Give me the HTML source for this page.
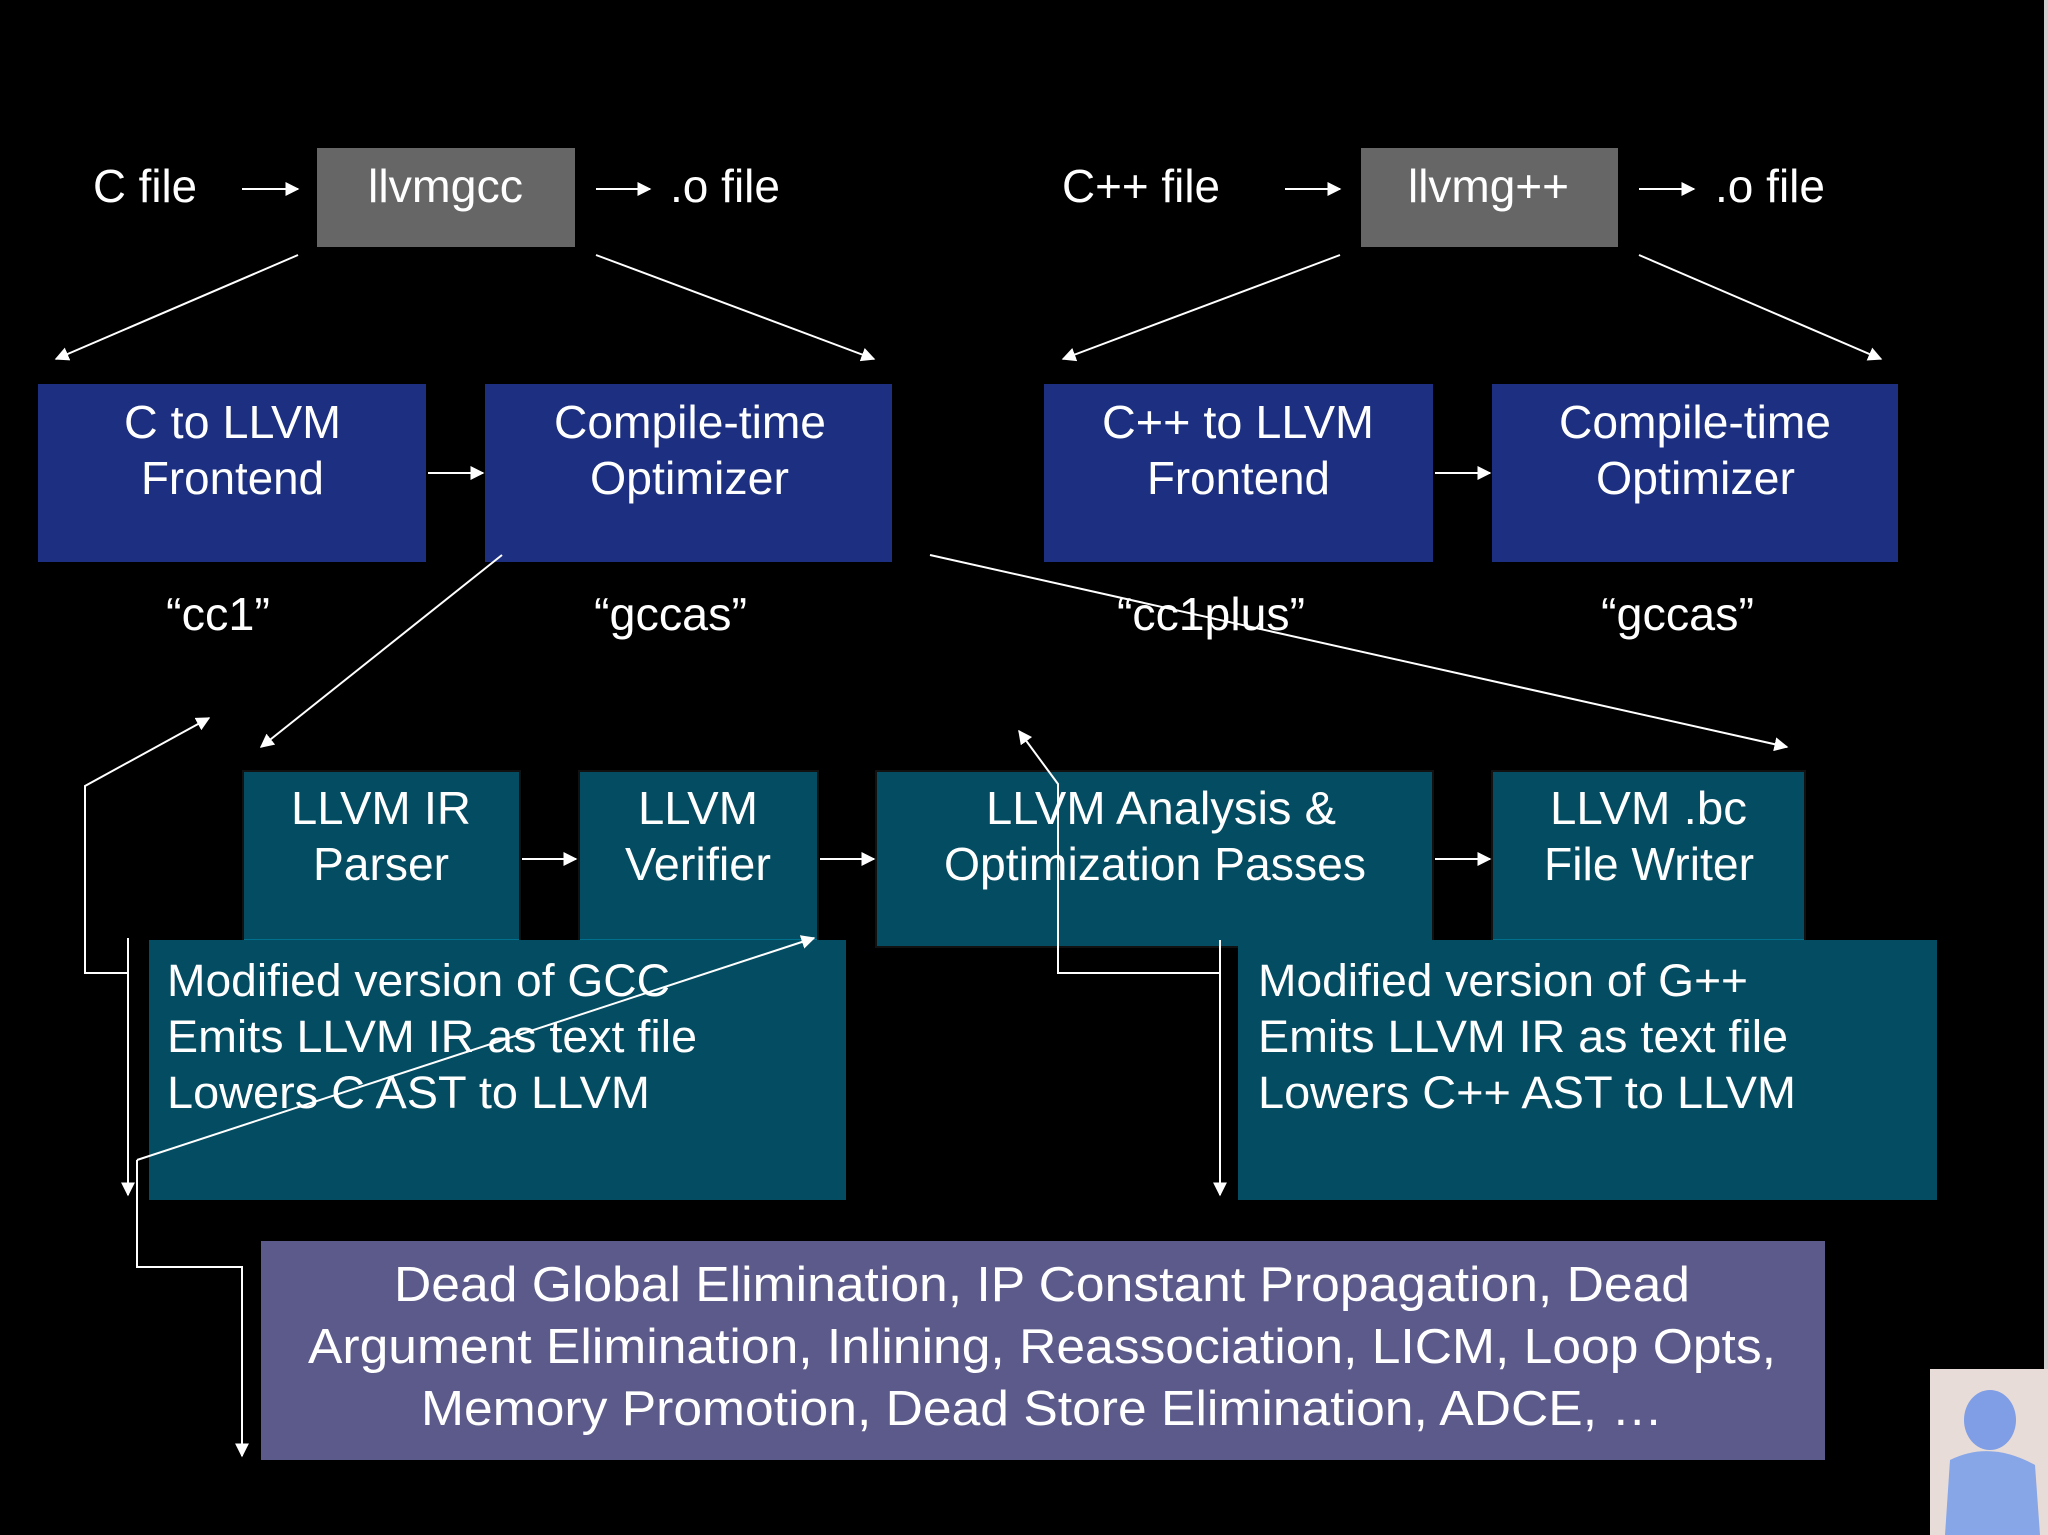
<!DOCTYPE html>
<html><head><meta charset="utf-8"><style>
html,body{margin:0;padding:0;background:#000;}
svg{display:block;}
text{font-family:"Liberation Sans",Arial,sans-serif;fill:#fff;}
</style></head><body>
<svg width="2048" height="1535" viewBox="0 0 2048 1535" xmlns="http://www.w3.org/2000/svg">
<defs>
<marker id="a" viewBox="0 0 10 10" refX="9" refY="5" markerWidth="14" markerHeight="14" markerUnits="userSpaceOnUse" orient="auto">
<path d="M0,0 L10,5 L0,10 z" fill="#fff"/></marker>
</defs>
<rect width="2048" height="1535" fill="#000"/>
<g font-size="46" lengthAdjust="spacingAndGlyphs">
<text x="93" y="202" textLength="104" lengthAdjust="spacingAndGlyphs">C file</text>
<text x="670" y="202" textLength="110" lengthAdjust="spacingAndGlyphs">.o file</text>
<text x="1062" y="202" textLength="158" lengthAdjust="spacingAndGlyphs">C++ file</text>
<text x="1715" y="202" textLength="110" lengthAdjust="spacingAndGlyphs">.o file</text>
</g>
<rect x="317" y="148" width="258" height="99" fill="#666"/>
<rect x="1361" y="148" width="257" height="99" fill="#666"/>
<g font-size="46">
<text x="368" y="202" textLength="155" lengthAdjust="spacingAndGlyphs">llvmgcc</text>
<text x="1408" y="202" textLength="161" lengthAdjust="spacingAndGlyphs">llvmg++</text>
</g>
<g stroke="#fff" stroke-width="2" fill="none" marker-end="url(#a)">
<line x1="242" y1="189" x2="298" y2="189"/>
<line x1="596" y1="189" x2="650" y2="189"/>
<line x1="1285" y1="189" x2="1340" y2="189"/>
<line x1="1639" y1="189" x2="1694" y2="189"/>
<line x1="298" y1="255" x2="56" y2="359"/>
<line x1="596" y1="255" x2="874" y2="359"/>
<line x1="1340" y1="255" x2="1063" y2="359"/>
<line x1="1639" y1="255" x2="1881" y2="359"/>
</g>
<g fill="#1c2f80">
<rect x="38" y="384" width="388" height="178"/>
<rect x="485" y="384" width="407" height="178"/>
<rect x="1044" y="384" width="389" height="178"/>
<rect x="1492" y="384" width="406" height="178"/>
</g>
<g font-size="46">
<text x="124" y="438" textLength="217" lengthAdjust="spacingAndGlyphs">C to LLVM</text>
<text x="141" y="494" textLength="183" lengthAdjust="spacingAndGlyphs">Frontend</text>
<text x="554" y="438" textLength="272" lengthAdjust="spacingAndGlyphs">Compile-time</text>
<text x="590" y="494" textLength="199" lengthAdjust="spacingAndGlyphs">Optimizer</text>
<text x="1102" y="438" textLength="272" lengthAdjust="spacingAndGlyphs">C++ to LLVM</text>
<text x="1147" y="494" textLength="183" lengthAdjust="spacingAndGlyphs">Frontend</text>
<text x="1559" y="438" textLength="272" lengthAdjust="spacingAndGlyphs">Compile-time</text>
<text x="1596" y="494" textLength="199" lengthAdjust="spacingAndGlyphs">Optimizer</text>
<text x="166" y="630" textLength="104" lengthAdjust="spacingAndGlyphs">“cc1”</text>
<text x="594" y="630" textLength="153" lengthAdjust="spacingAndGlyphs">“gccas”</text>
<text x="1117" y="630" textLength="188" lengthAdjust="spacingAndGlyphs">“cc1plus”</text>
<text x="1601" y="630" textLength="153" lengthAdjust="spacingAndGlyphs">“gccas”</text>
</g>
<g stroke="#fff" stroke-width="2" fill="none" marker-end="url(#a)">
<line x1="428" y1="473" x2="483" y2="473"/>
<line x1="1435" y1="473" x2="1490" y2="473"/>
</g>
<g fill="#034c62" stroke="#111" stroke-width="2">
<rect x="243" y="771" width="277" height="176"/>
<rect x="579" y="771" width="239" height="176"/>
<rect x="876" y="771" width="557" height="176"/>
<rect x="1492" y="771" width="313" height="176"/>
</g>
<g fill="#00708f">
<rect x="244" y="939" width="275" height="7"/>
<rect x="580" y="939" width="237" height="7"/>
<rect x="1493" y="939" width="311" height="7"/>
</g>
<g font-size="46">
<text x="291" y="824" textLength="180" lengthAdjust="spacingAndGlyphs">LLVM IR</text>
<text x="313" y="880" textLength="136" lengthAdjust="spacingAndGlyphs">Parser</text>
<text x="638" y="824" textLength="120" lengthAdjust="spacingAndGlyphs">LLVM</text>
<text x="625" y="880" textLength="146" lengthAdjust="spacingAndGlyphs">Verifier</text>
<text x="986" y="824" textLength="350" lengthAdjust="spacingAndGlyphs">LLVM Analysis &amp;</text>
<text x="944" y="880" textLength="422" lengthAdjust="spacingAndGlyphs">Optimization Passes</text>
<text x="1550" y="824" textLength="197" lengthAdjust="spacingAndGlyphs">LLVM .bc</text>
<text x="1544" y="880" textLength="210" lengthAdjust="spacingAndGlyphs">File Writer</text>
</g>
<g stroke="#fff" stroke-width="2" fill="none" marker-end="url(#a)">
<line x1="522" y1="859" x2="576" y2="859"/>
<line x1="820" y1="859" x2="874" y2="859"/>
<line x1="1435" y1="859" x2="1490" y2="859"/>
</g>
<rect x="149" y="940" width="697" height="260" fill="#034c62"/>
<rect x="1238" y="940" width="699" height="260" fill="#034c62"/>
<g font-size="45">
<text x="167" y="996" textLength="503" lengthAdjust="spacingAndGlyphs">Modified version of GCC</text>
<text x="167" y="1052" textLength="530" lengthAdjust="spacingAndGlyphs">Emits LLVM IR as text file</text>
<text x="167" y="1108" textLength="483" lengthAdjust="spacingAndGlyphs">Lowers C AST to LLVM</text>
<text x="1258" y="996" textLength="490" lengthAdjust="spacingAndGlyphs">Modified version of G++</text>
<text x="1258" y="1052" textLength="530" lengthAdjust="spacingAndGlyphs">Emits LLVM IR as text file</text>
<text x="1258" y="1108" textLength="538" lengthAdjust="spacingAndGlyphs">Lowers C++ AST to LLVM</text>
</g>
<rect x="261" y="1241" width="1564" height="219" fill="#5b5a8a"/>
<g font-size="49">
<text x="394" y="1301" textLength="1296" lengthAdjust="spacingAndGlyphs">Dead Global Elimination, IP Constant Propagation, Dead</text>
<text x="308" y="1363" textLength="1468" lengthAdjust="spacingAndGlyphs">Argument Elimination, Inlining, Reassociation, LICM, Loop Opts,</text>
<text x="421" y="1425" textLength="1242" lengthAdjust="spacingAndGlyphs">Memory Promotion, Dead Store Elimination, ADCE, …</text>
</g>
<g stroke="#fff" stroke-width="2" fill="none" marker-end="url(#a)">
<line x1="502" y1="555" x2="261" y2="747"/>
<line x1="930" y1="555" x2="1787" y2="747"/>
<polyline points="128,973 85,973 85,786 209,718"/>
<line x1="128" y1="938" x2="128" y2="1195"/>
<line x1="137" y1="1160" x2="814" y2="938"/>
<polyline points="137,1160 137,1267 242,1267 242,1456"/>
<line x1="1220" y1="940" x2="1220" y2="1195"/>
<polyline points="1220,973 1058,973 1058,784 1019,731"/>
</g>
<rect x="1930" y="1369" width="118" height="166" fill="#e8dcd8"/>
<ellipse cx="1990" cy="1420" rx="26" ry="30" fill="#7f9ee6"/>
<path d="M1945,1535 L1950,1460 Q1990,1440 2035,1465 L2040,1535 z" fill="#86a6e8"/>
<rect x="2044" y="0" width="4" height="1369" fill="#cfcfcf"/>
</svg>
</body></html>
